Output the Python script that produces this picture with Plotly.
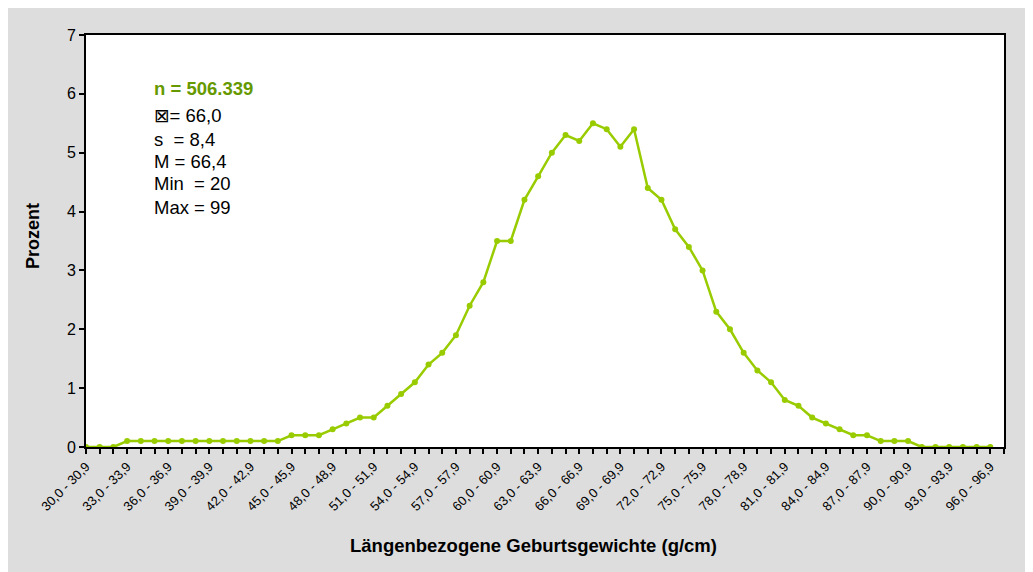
import plotly.graph_objects as go

# Category lower bounds (g/cm), each bin is "c,0 - c,9"
categories = list(range(30, 97))
percent = [
    0.0, 0.0, 0.0,                                   # 30-32
    0.1, 0.1, 0.1, 0.1, 0.1, 0.1, 0.1, 0.1, 0.1, 0.1, 0.1, 0.1,  # 33-44
    0.2, 0.2, 0.2, 0.3, 0.4, 0.5, 0.5, 0.7, 0.9, 1.1,  # 45-54
    1.4, 1.6, 1.9, 2.4, 2.8, 3.5, 3.5, 4.2, 4.6, 5.0,  # 55-64
    5.3, 5.2, 5.5, 5.4, 5.1, 5.4, 4.4, 4.2, 3.7, 3.4,  # 65-74
    3.0, 2.3, 2.0, 1.6, 1.3, 1.1, 0.8, 0.7, 0.5, 0.4,  # 75-84
    0.3, 0.2, 0.2, 0.1, 0.1, 0.1,                    # 85-90
    0.0, 0.0, 0.0, 0.0, 0.0, 0.0,                    # 91-96
]
tick_values = list(range(30, 97, 3))
tick_labels = [f"{c},0 - {c},9" for c in tick_values]

n_text = "n = 506.339"
stat_lines = ["\u22a0= 66,0", "s  = 8,4", "M = 66,4", "Min  = 20", "Max = 99"]

FONT = "Liberation Sans, Arial, DejaVu Sans, sans-serif"
GREEN = "#99CC00"

fig = go.Figure()
fig.add_trace(go.Scatter(
    x=categories, y=percent, mode="lines+markers",
    line=dict(color=GREEN, width=2.5),
    marker=dict(color=GREEN, size=6),
    hoverinfo="x+y", showlegend=False,
))

OFF = 8  # page body margin
W, H = 1025, 564
L, R, T, B = 78, 29, 27, 125
pw, ph = W - L - R, H - T - B

def px_x(px):  # page pixel -> paper
    return (px - OFF - L) / pw

def px_y(py):
    return (H - B - (py - OFF)) / ph

annotations = [
    dict(text=f"<b>{n_text}</b>", xref="paper", yref="paper",
         x=px_x(152), y=px_y(88), xanchor="left", yanchor="middle",
         showarrow=False, font=dict(size=18.5, color="#669900", family=FONT)),
    dict(text="<b>Längenbezogene Geburtsgewichte (g/cm)</b>", xref="paper", yref="paper",
         x=px_x(533), y=px_y(545), xanchor="center", yanchor="middle",
         showarrow=False, font=dict(size=18.5, color="black", family=FONT)),
    dict(text="<b>Prozent</b>", xref="paper", yref="paper",
         x=px_x(33), y=px_y(236), xanchor="center", yanchor="middle", textangle=-90,
         showarrow=False, font=dict(size=18, color="black", family=FONT)),
]
line_y = [115, 139, 161, 184, 207]
for txt, yy in zip(stat_lines, line_y):
    annotations.append(dict(text=txt, xref="paper", yref="paper",
                            x=px_x(152), y=px_y(yy), xanchor="left", yanchor="middle",
                            showarrow=False, font=dict(size=18.5, color="black", family=FONT)))

fig.update_layout(
    width=W, height=H,
    margin=dict(l=L, r=R, t=T, b=B, pad=0),
    paper_bgcolor="#DDDDDD", plot_bgcolor="white",
    font=dict(family=FONT, color="black"),
    annotations=annotations,
    xaxis=dict(
        range=[30, 97], tickmode="array", tickvals=tick_values, ticktext=tick_labels,
        tickangle=-45, tickfont=dict(size=13, family=FONT),
        ticks="outside", ticklen=5, tickwidth=1.5, tickcolor="black",
        minor=dict(dtick=1, tick0=30, ticks="outside", ticklen=5, tickwidth=1.5, tickcolor="black"),
        showline=True, linecolor="black", linewidth=2, mirror=True,
        showgrid=False, zeroline=False,
    ),
    yaxis=dict(
        range=[0, 7], dtick=1, tickfont=dict(size=16, family=FONT),
        ticks="outside", ticklen=5, tickwidth=1.5, tickcolor="black",
        showline=True, linecolor="black", linewidth=2, mirror=True,
        showgrid=False, zeroline=False,
    ),
)

fig.write_html("out.html")
